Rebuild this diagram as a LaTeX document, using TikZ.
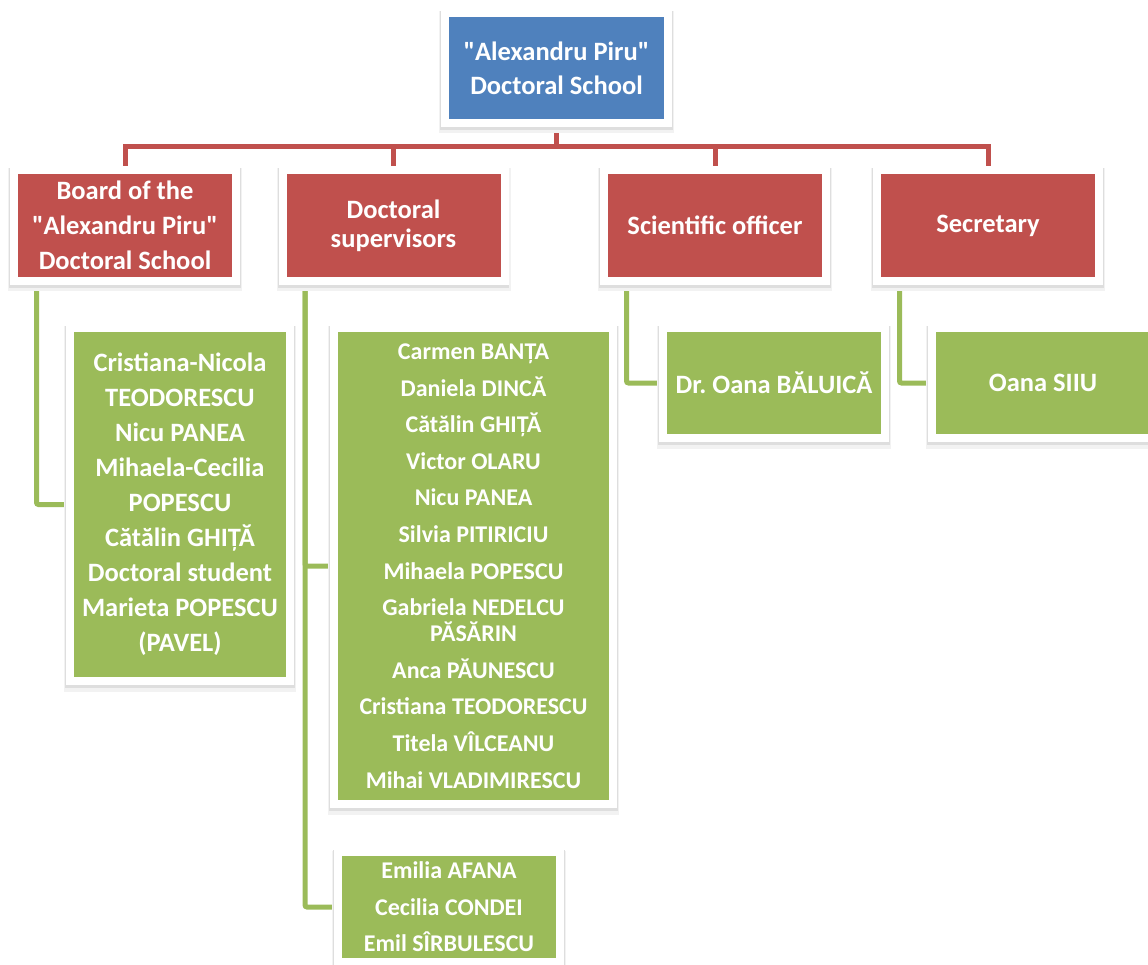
\documentclass[tikz,border=0pt]{standalone}
\usepackage{fontspec}
\setmainfont{Carlito}[Ligatures=TeXOff]
\usepackage{tikz}
\usetikzlibrary{backgrounds}

\definecolor{headblue}{HTML}{4F81BD}
\definecolor{unitred}{HTML}{C0504D}
\definecolor{membergreen}{HTML}{9BBB59}

\begin{document}
\begin{tikzpicture}[x=1pt,y=-1pt,
    every node/.style={rectangle,draw=white,line width=8pt,outer sep=4pt,
      inner sep=0pt,align=center,text=white,
      preaction={draw=black!5,fill=black!5,line width=12pt,transform canvas={yshift=-4.5pt}},
      preaction={draw=black!13,fill=black!13,line width=9.5pt,transform canvas={yshift=-2.5pt}}}]
  \tikzstyle{head}=[fill=headblue,minimum width=223pt,minimum height=110pt,
                    font=\fontsize{26.5}{34}\selectfont\bfseries]
  \tikzstyle{unit}=[fill=unitred,minimum width=222pt,minimum height=111pt,
                    font=\fontsize{26.5}{35}\selectfont\bfseries]
  \tikzstyle{member}=[fill=membergreen,minimum width=222pt,minimum height=110pt,
                      font=\fontsize{26.5}{35}\selectfont\bfseries]
  \tikzstyle{list}=[font=\fontsize{24}{36.6}\selectfont\bfseries]
  \tikzstyle{redline}=[draw=unitred,line width=5pt]
  \tikzstyle{greenline}=[draw=membergreen,line width=5pt,rounded corners=2pt]

  \useasboundingbox (0,0) rectangle (1148,965);

  % top and second level
  \node[head] (T) at (556.5,68)  {"Alexandru Piru"\\Doctoral School};
  \node[unit] (B) at (125,225.5) {Board of the\\"Alexandru Piru"\\Doctoral School};
  \node[unit,font=\fontsize{26.5}{29}\selectfont\bfseries]
              (D) at (393.5,225.5) {Doctoral\\supervisors};
  \node[unit] (O) at (715,225.5) {Scientific officer};
  \node[unit] (S) at (988,225.5) {Secretary};

  % members
  \node[member,minimum width=220pt,minimum height=353pt] (B1) at (180,504.5)
    {Cristiana-Nicola\\TEODORESCU\\Nicu PANEA\\Mihaela-Cecilia\\POPESCU\\
     Cătălin GHIȚĂ\\Doctoral student\\Marieta POPESCU\\(PAVEL)};
  \node[member,list,minimum width=279pt,minimum height=476pt] (D1) at (473.5,566)
    {Carmen BANȚA\\Daniela DINCĂ\\Cătălin GHIȚĂ\\Victor OLARU\\Nicu PANEA\\
     Silvia PITIRICIU\\Mihaela POPESCU\\Gabriela NEDELCU\\[-10.6pt]PĂSĂRIN\\
     Anca PĂUNESCU\\Cristiana TEODORESCU\\Titela VÎLCEANU\\Mihai VLADIMIRESCU};
  \node[member,list] (D2) at (449,907) {Emilia AFANA\\Cecilia CONDEI\\Emil SÎRBULESCU};
  \node[member] (O1) at (774,383)  {Dr.\ Oana BĂLUICĂ};
  \node[member] (S1) at (1043,383) {Oana SIIU};

  \begin{scope}[on background layer]
    \draw[redline] (T.south) -- ++(0,20) coordinate (bus);
    \foreach \n in {B,D,O,S}
      \draw[redline] (bus) -| (\n.north);
    \draw[greenline] ([xshift=26.5pt]B.south west) |- (B1.west);
    \draw[greenline] ([xshift=26.5pt]D.south west) |- (D1.west);
    \draw[greenline] ([xshift=26.5pt]D.south west) |- (D2.west);
    \draw[greenline] ([xshift=26.5pt]O.south west) |- (O1.west);
    \draw[greenline] ([xshift=26.5pt]S.south west) |- (S1.west);
  \end{scope}
\end{tikzpicture}
\end{document}
